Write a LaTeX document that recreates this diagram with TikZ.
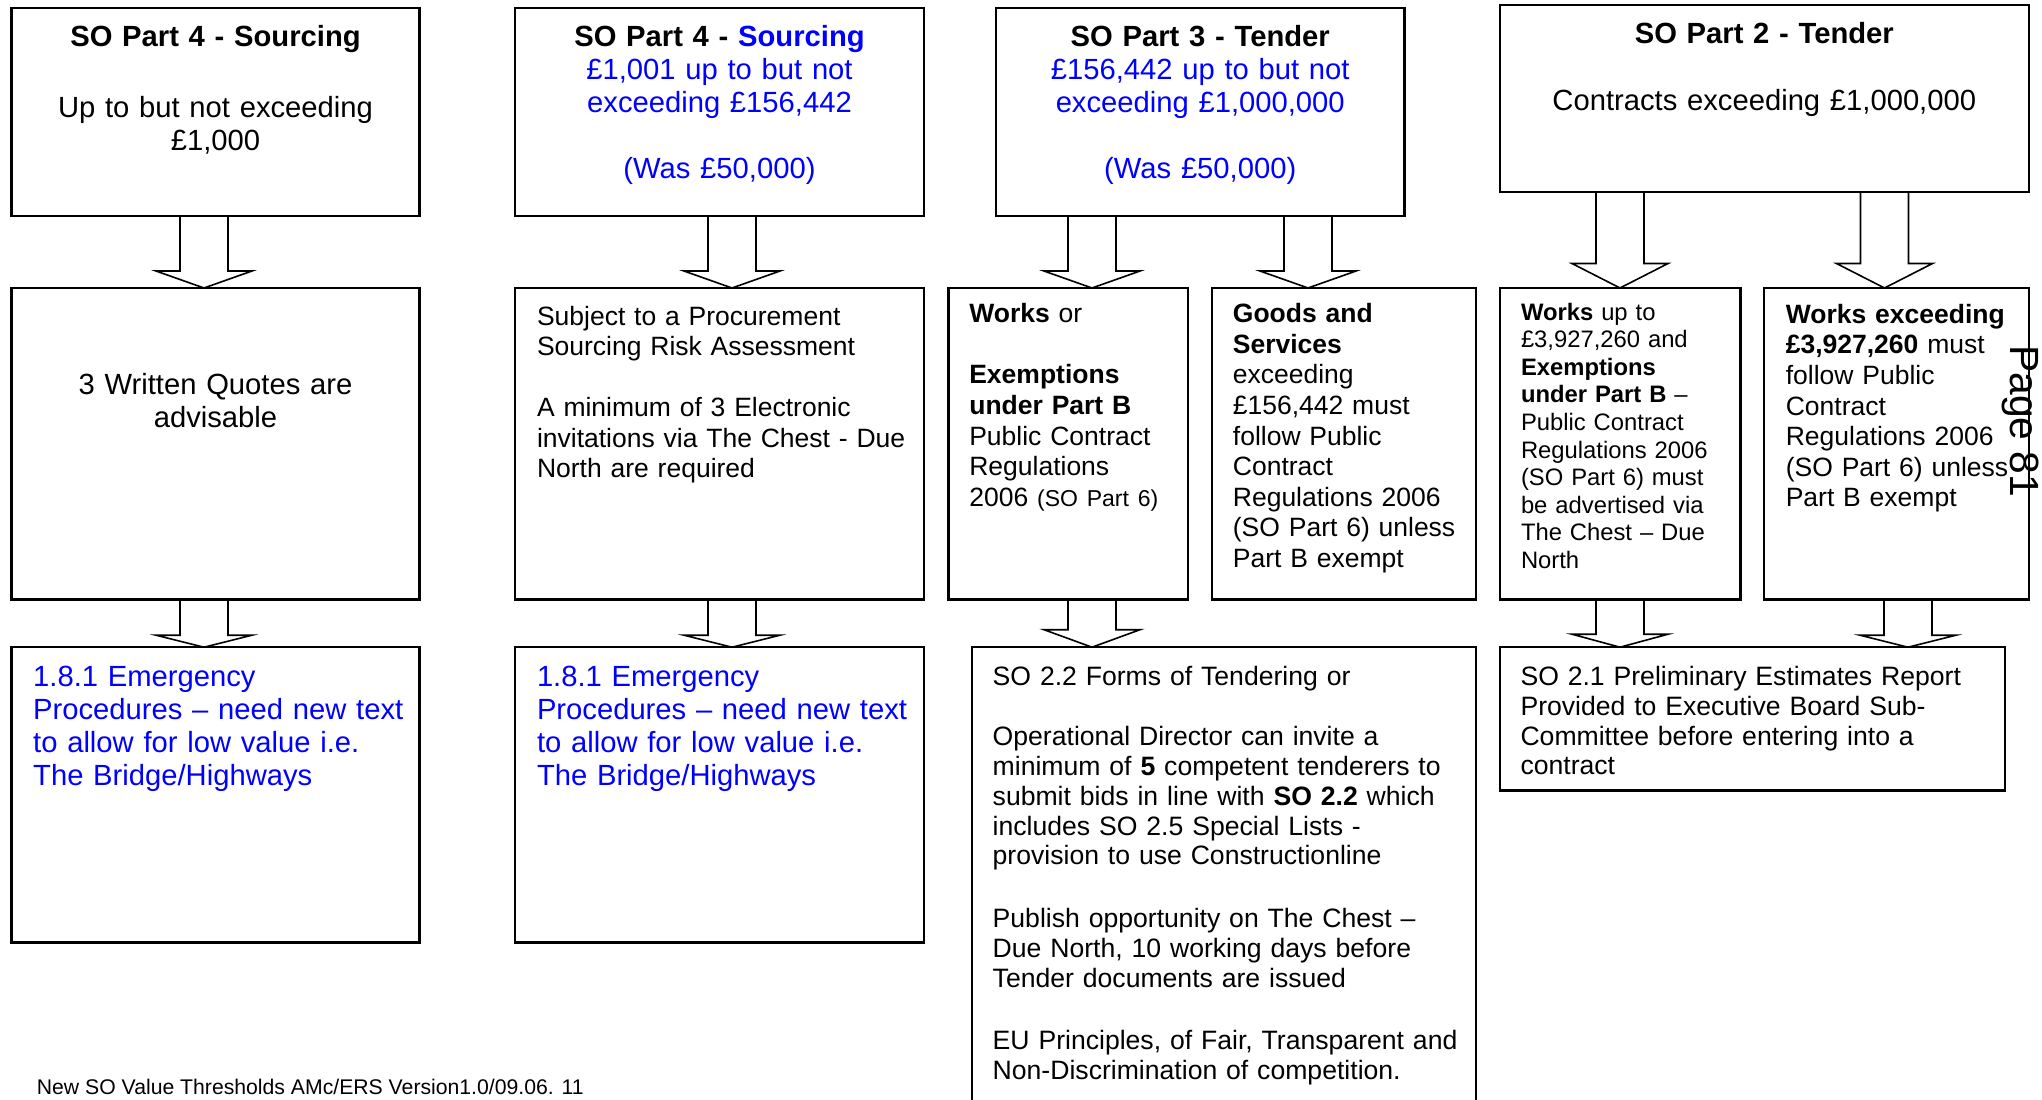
\documentclass[tikz,border=0pt]{standalone}
\usepackage{fontspec}
\setmainfont{Liberation Sans}
\usetikzlibrary{calc}
\definecolor{txtblue}{RGB}{0,0,255}
\newcommand\szA{\fontsize{14.6pt}{16.5pt}\selectfont}
\newcommand\szB{\fontsize{13.25pt}{15.3pt}\selectfont}
\newcommand\szBB{\fontsize{13.25pt}{15.2pt}\selectfont}
\newcommand\szC{\fontsize{13.3pt}{14.9pt}\selectfont}
\newcommand\szD{\fontsize{11.9pt}{13.8pt}\selectfont}
\newcommand\szE{\fontsize{11.5pt}{13.8pt}\selectfont}
\newcommand\szF{\fontsize{10.6pt}{12pt}\selectfont}
\newcommand\szG{\fontsize{20.4pt}{23pt}\selectfont}
\tikzset{
  box/.style={draw, line width=1.1pt, anchor=north west, inner sep=0pt, outer sep=0pt},
  arrowline/.style={draw, line width=0.8pt, line join=miter},
  lt/.style={inner sep=0pt, outer sep=0pt, anchor=base west, align=left, text width=#1},
  ct/.style={inner sep=0pt, outer sep=0pt, anchor=base, align=center, text width=#1},
}
% block arrow: #1 source node, #2 target node, #3 x centre (px), #4 head length (px)
\newcommand\blockarr[4]{%
  \draw[arrowline] (#3-24,0 |- #1.south)
    -- ($(#3-24,0 |- #2.north)+(0,-#4)$)
    -- ($(#3-48,0 |- #2.north)+(0,-#4)$)
    -- (#3,0 |- #2.north)
    -- ($(#3+48,0 |- #2.north)+(0,-#4)$)
    -- ($(#3+24,0 |- #2.north)+(0,-#4)$)
    -- (#3+24,0 |- #1.south);}
\begin{document}
\begin{tikzpicture}[x=0.5pt,y=-0.5pt]
\useasboundingbox (0,0) rectangle (2042,1099);
\clip (0,0) rectangle (2042,1099);
\fill[white] (0,0) rectangle (2042,1099);

% ---------- row 1 ----------
\node[box, minimum width=204pt, minimum height=104pt] (a1) at (11.5,8) {};
\node[box, minimum width=204.5pt, minimum height=104pt] (b1) at (515,8) {};
\node[box, minimum width=204.25pt, minimum height=104pt] (c1) at (996,8) {};
\node[box, minimum width=264.3pt, minimum height=93.65pt] (d1) at (1500,4.7) {};

\node[ct=204pt, font=\szA] (a1t) at (215.5,46.5) {\textbf{SO Part 4 - Sourcing}};
\node[ct=204pt, font=\szA] (a1b) at (215.5,117.4) {Up to but not exceeding\\£1,000};

\node[ct=204pt, font=\szA] (b1t) at (719.5,46.5) {\textbf{SO Part 4 - \textcolor{txtblue}{Sourcing}}\\
  \textcolor{txtblue}{£1,001 up to but not}\\
  \textcolor{txtblue}{exceeding £156,442}\\[16.5pt]
  \textcolor{txtblue}{(Was £50,000)}};

\node[ct=204pt, font=\szA] (c1t) at (1200.25,46.5) {\textbf{SO Part 3 - Tender}\\
  \textcolor{txtblue}{£156,442 up to but not}\\
  \textcolor{txtblue}{exceeding £1,000,000}\\[16.5pt]
  \textcolor{txtblue}{(Was £50,000)}};

\node[ct=264pt, font=\szA] (d1t) at (1764.3,43.5) {\textbf{SO Part 2 - Tender}};
\node[ct=264pt, font=\szA] (d1b) at (1764.3,110.7) {Contracts exceeding £1,000,000};

% ---------- row 2 ----------
\node[box, minimum width=204pt, minimum height=155.75pt] (a2) at (11.5,288) {};
\node[box, minimum width=204.5pt, minimum height=155.75pt] (b2) at (515,288) {};
\node[box, minimum width=119.8pt, minimum height=155.75pt] (c2a) at (948.4,288) {};
\node[box, minimum width=132pt, minimum height=155.75pt] (c2b) at (1212,288) {};
\node[box, minimum width=120.25pt, minimum height=155.75pt] (d2a) at (1500,288) {};
\node[box, minimum width=132.45pt, minimum height=155.75pt] (d2b) at (1763.7,288) {};

\node[ct=204pt, font=\szA] (a2t) at (215.5,394.6) {3 Written Quotes are\\advisable};

\node[lt=193pt, font=\szBB] (b2t) at (537,325.4) {Subject to a Procurement\\
  Sourcing Risk Assessment\\[15.2pt]
  A minimum of 3 Electronic\\
  invitations via The Chest - Due\\
  North are required};

\node[lt=109pt, font=\szB] (c2at) at (969.3,322.7) {\textbf{Works} or\\[15.3pt]
  \textbf{Exemptions}\\
  \textbf{under Part B}\\
  Public Contract\\
  Regulations\\
  2006 {\szE(SO Part 6)}};

\node[lt=121pt, font=\szB] (c2bt) at (1232.9,322.7) {\textbf{Goods and}\\
  \textbf{Services}\\
  exceeding\\
  £156,442 must\\
  follow Public\\
  Contract\\
  Regulations 2006\\
  (SO Part 6) unless\\
  Part B exempt};

\node[lt=109pt, font=\szD] (d2at) at (1521,320) {\textbf{Works} up to\\
  £3,927,260 and\\
  \textbf{Exemptions}\\
  \textbf{under Part B} –\\
  Public Contract\\
  Regulations 2006\\
  (SO Part 6) must\\
  be advertised via\\
  The Chest – Due\\
  North};

\node[lt=121pt, font=\szB] (d2bt) at (1785.8,323.3) {\textbf{Works exceeding}\\
  \textbf{£3,927,260} must\\
  follow Public\\
  Contract\\
  Regulations 2006\\
  (SO Part 6) unless\\
  Part B exempt};

% ---------- row 3 ----------
\node[box, minimum width=204pt, minimum height=147.65pt] (a3) at (11.5,647.2) {};
\node[box, minimum width=204.5pt, minimum height=147.65pt] (b3) at (515,647.2) {};
\node[box, minimum width=252.3pt, minimum height=240pt] (c3) at (971.6,647.2) {};
\node[box, minimum width=252.35pt, minimum height=71.65pt] (d3) at (1500,647.2) {};

\node[lt=193pt, font=\szA, text=txtblue] (a3t) at (33.2,686.3) {1.8.1 Emergency\\
  Procedures – need new text\\
  to allow for low value i.e.\\
  The Bridge/Highways};
\node[lt=193pt, font=\szA, text=txtblue] (b3t) at (537,686.3) {1.8.1 Emergency\\
  Procedures – need new text\\
  to allow for low value i.e.\\
  The Bridge/Highways};

\node[lt=241pt, font=\szC] (c3p1) at (992.7,685.5) {SO 2.2 Forms of Tendering or};
\node[lt=241pt, font=\szC] (c3p2) at (992.7,745.7) {Operational Director can invite a\\
  minimum of \textbf{5} competent tenderers to\\
  submit bids in line with \textbf{SO 2.2} which\\
  includes SO 2.5 Special Lists -\\
  provision to use Constructionline};
\node[lt=241pt, font=\szC] (c3p3) at (992.7,927.8) {Publish opportunity on The Chest –\\
  Due North, 10 working days before\\
  Tender documents are issued};
\node[lt=241pt, font=\szC] (c3p4) at (992.7,1049.5) {EU Principles, of Fair, Transparent and\\
  Non-Discrimination of competition.};

\node[lt=242pt, font=\szC] (d3t) at (1520.5,685.5) {SO 2.1 Preliminary Estimates Report\\
  Provided to Executive Board Sub-\\
  Committee before entering into a\\
  contract};

% ---------- arrows ----------
\blockarr{a1}{a2}{204}{17}
\blockarr{b1}{b2}{732}{17}
\blockarr{c1}{c2a}{1092}{17}
\blockarr{c1}{c2b}{1308}{17}
\blockarr{d1}{d2a}{1620}{24.5}
\blockarr{d1}{d2b}{1884.5}{24.5}
\blockarr{a2}{a3}{204}{12}
\blockarr{b2}{b3}{732}{12}
\blockarr{c2a}{c3}{1092}{17.5}
\blockarr{d2a}{d3}{1620}{13}
\blockarr{d2b}{d3}{1908}{12}

% ---------- footer and page number ----------
\node[inner sep=0pt, anchor=base west, font=\szF] (foot) at (36.5,1094) {New SO Value Thresholds AMc/ERS Version1.0/09.06. 11};
\node[inner sep=0pt, anchor=base west, rotate=-90, font=\szG] (pg) at (2010,345) {Page 81};
\end{tikzpicture}
\end{document}
